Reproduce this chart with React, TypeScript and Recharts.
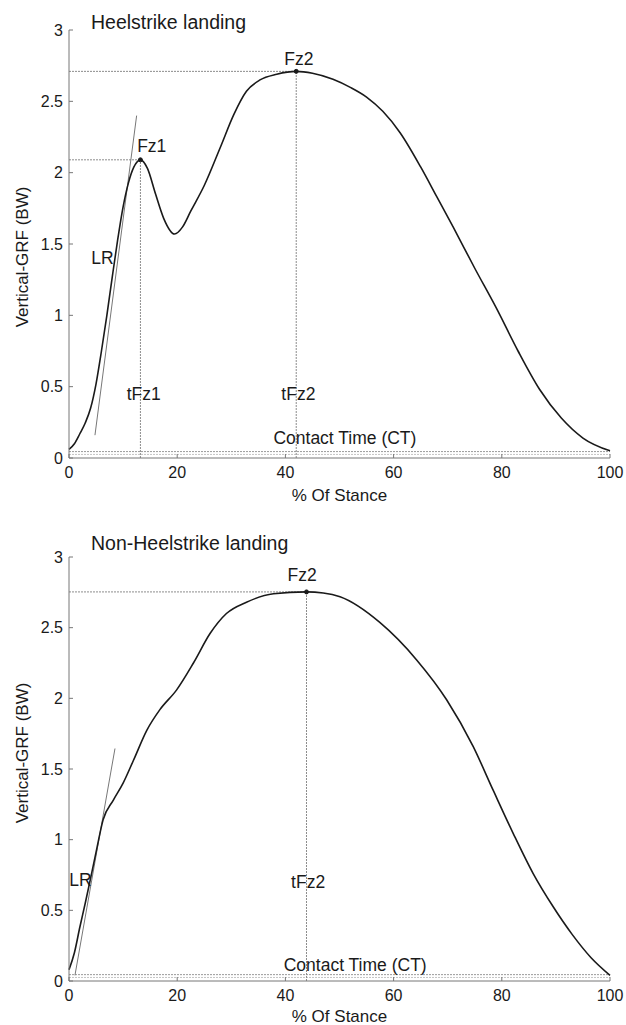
import React from 'react';
import {
  ComposedChart,
  Line,
  XAxis,
  YAxis,
  ReferenceLine,
  ReferenceDot,
  Customized
} from 'recharts';

const FONT = '"Liberation Sans", Arial, Helvetica, sans-serif';
const INK = '#1a1a1a';
const GUIDE = '#8c8c8c';

// % of stance vs vertical GRF (body weights)
const heelX = [0, 1, 2, 3, 4, 5, 6, 7, 8, 9, 10, 11, 12, 13.2, 14.5, 16, 17.5, 19.5, 21, 22.5, 25, 28, 30.5, 32.8, 35.3, 38.4, 42, 45, 48.8, 52, 55, 58, 61.2, 65, 68, 71, 75, 79, 83, 87, 91, 95, 100];
const heelY = [0.06, 0.1, 0.17, 0.245, 0.35, 0.52, 0.75, 1.0, 1.27, 1.53, 1.76, 1.93, 2.04, 2.09, 2.03, 1.85, 1.68, 1.57, 1.62, 1.73, 1.91, 2.18, 2.41, 2.57, 2.65, 2.69, 2.71, 2.697, 2.655, 2.598, 2.53, 2.43, 2.28, 2.04, 1.83, 1.62, 1.33, 1.05, 0.75, 0.48, 0.28, 0.14, 0.05];

const nonX = [0, 1, 2, 3, 3.9, 5.1, 6.3, 8.2, 10, 11.9, 14.4, 16.8, 19.9, 23, 26.1, 29.1, 32.8, 37.8, 43.9, 47, 50.1, 57.5, 64.3, 69.8, 74.7, 78.4, 82.1, 85.8, 89.5, 93, 96.5, 100];
const nonY = [0.08, 0.2, 0.38, 0.55, 0.71, 0.93, 1.14, 1.28, 1.4, 1.56, 1.775, 1.92, 2.06, 2.25, 2.46, 2.6, 2.68, 2.74, 2.753, 2.745, 2.718, 2.535, 2.27, 1.99, 1.66, 1.35, 1.045, 0.76, 0.525, 0.33, 0.165, 0.04];

// peaks [time, force]
const heelFz1 = [13.2, 2.09];
const heelFz2 = [42, 2.71];
const nonFz2 = [43.9, 2.753];

// loading-rate tangents [[x0, y0], [x1, y1]]
const heelLR = [[4.8, 0.16], [12.5, 2.4]];
const nonLR = [[1.1, 0.04], [8.5, 1.645]];

const ctLevel = 0.045;

const xTicks = [0, 20, 40, 60, 80, 100];
const yTicks = [0, 0.5, 1, 1.5, 2, 2.5, 3];

const txt = { fontFamily: FONT, fill: INK };

type Note = { x: number; y: number; text: string };

interface PanelProps {
  xs: number[];
  ys: number[];
  peaks: { p: number[]; tLabel: Note; fLabel: Note }[];
  lr: number[][];
  lrLabel: Note;
  ctLabel: Note;
  title: string;
  titleY: number;
  yLabelY: number;
  height: number;
  xAxisHeight: number;
}

const GrfPanel = ({ xs, ys, peaks, lr, lrLabel, ctLabel, title, titleY, yLabelY, height, xAxisHeight }: PanelProps) => {
  const data = xs.map((x, i) => ({ x, y: ys[i] }));
  const notes: Note[] = [lrLabel, ctLabel, ...peaks.flatMap((k) => [k.tLabel, k.fLabel])];

  return (
    <ComposedChart width={626} height={height} data={data} margin={{ top: 30, right: 16, bottom: 0, left: 0 }}>
      <XAxis
        type="number"
        dataKey="x"
        domain={[0, 100]}
        ticks={xTicks}
        interval={0}
        stroke="#777"
        tickSize={-4}
        tickMargin={13}
        height={xAxisHeight}
        tick={{ fontSize: 16, ...txt }}
        label={{ value: '% Of Stance', position: 'insideBottom', offset: 3, fontSize: 17, ...txt }}
      />
      <YAxis
        type="number"
        domain={[0, 3]}
        ticks={yTicks}
        interval={0}
        width={69}
        stroke="#777"
        tickSize={-4}
        tickMargin={10}
        tick={{ fontSize: 16, ...txt }}
      />
      <Customized
        component={() => (
          <g>
            <text x={91} y={titleY} fontSize={19.5} fontFamily={FONT} fill={INK}>{title}</text>
            <text
              x={22}
              y={yLabelY}
              transform={`rotate(-90 22 ${yLabelY})`}
              textAnchor="middle"
              dominantBaseline="central"
              fontSize={17}
              fontFamily={FONT}
              fill={INK}
            >
              Vertical-GRF (BW)
            </text>
          </g>
        )}
      />

      {/* contact time band */}
      <ReferenceLine segment={[{ x: 0, y: ctLevel }, { x: 100, y: ctLevel }]} stroke="#9a9a9a" strokeDasharray="2 1" />
      <ReferenceLine segment={[{ x: 0, y: ctLevel - 0.02 }, { x: 100, y: ctLevel - 0.02 }]} stroke="#c4c4c4" strokeDasharray="2 1" />

      {peaks.map((k, i) => (
        <ReferenceLine key={'h' + i} segment={[{ x: 0, y: k.p[1] }, { x: k.p[0], y: k.p[1] }]} stroke={GUIDE} strokeDasharray="2 1" />
      ))}
      {peaks.map((k, i) => (
        <ReferenceLine key={'v' + i} segment={[{ x: k.p[0], y: 0 }, { x: k.p[0], y: k.p[1] }]} stroke={GUIDE} strokeDasharray="2 1" />
      ))}

      <ReferenceLine segment={[{ x: lr[0][0], y: lr[0][1] }, { x: lr[1][0], y: lr[1][1] }]} stroke="#777" />

      <Line
        type="monotone"
        dataKey="y"
        stroke={INK}
        strokeWidth={1.6}
        dot={false}
        isAnimationActive={false}
      />

      {peaks.map((k, i) => (
        <ReferenceDot key={'p' + i} x={k.p[0]} y={k.p[1]} r={2} fill={INK} stroke={INK} />
      ))}

      {notes.map((n, i) => (
        <ReferenceDot
          key={'n' + i}
          x={n.x}
          y={n.y}
          r={0}
          fill="none"
          stroke="none"
          label={{ value: n.text, position: 'center', fontSize: 17.5, ...txt }}
        />
      ))}
    </ComposedChart>
  );
};

export default function App() {
  return (
    <div style={{ position: 'absolute', left: 0, top: 0, width: 626, height: 1025, background: '#fff' }}>
      <div style={{ position: 'absolute', left: 0, top: 0 }}>
        <GrfPanel
          xs={heelX}
          ys={heelY}
          title="Heelstrike landing"
          titleY={29}
          yLabelY={257}
          height={504}
          xAxisHeight={46}
          lr={heelLR}
          lrLabel={{ x: 6.2, y: 1.4, text: 'LR' }}
          ctLabel={{ x: 51, y: 0.143, text: 'Contact Time (CT)' }}
          peaks={[
            { p: heelFz1, fLabel: { x: 15.3, y: 2.19, text: 'Fz1' }, tLabel: { x: 13.8, y: 0.45, text: 'tFz1' } },
            { p: heelFz2, fLabel: { x: 42.5, y: 2.8, text: 'Fz2' }, tLabel: { x: 42.4, y: 0.45, text: 'tFz2' } }
          ]}
        />
      </div>
      <div style={{ position: 'absolute', left: 0, top: 527 }}>
        <GrfPanel
          xs={nonX}
          ys={nonY}
          title="Non-Heelstrike landing"
          titleY={23}
          yLabelY={226}
          height={498}
          xAxisHeight={44}
          lr={nonLR}
          lrLabel={{ x: 2.1, y: 0.714, text: 'LR' }}
          ctLabel={{ x: 52.9, y: 0.113, text: 'Contact Time (CT)' }}
          peaks={[
            { p: nonFz2, fLabel: { x: 43.1, y: 2.875, text: 'Fz2' }, tLabel: { x: 44.2, y: 0.7, text: 'tFz2' } }
          ]}
        />
      </div>
    </div>
  );
}
